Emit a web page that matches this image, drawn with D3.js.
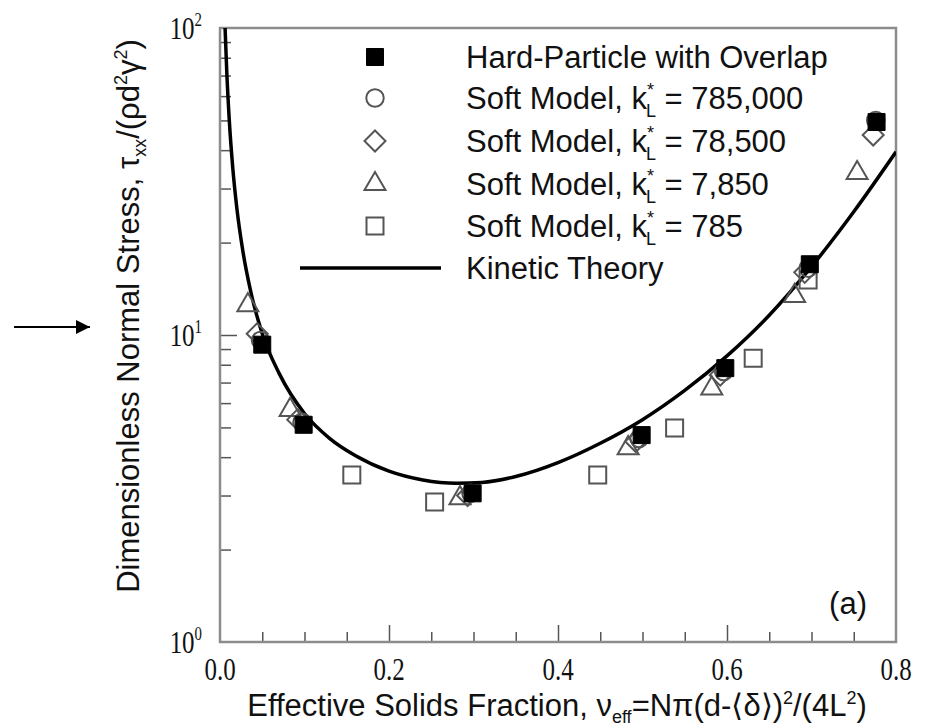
<!DOCTYPE html>
<html>
<head>
<meta charset="utf-8">
<script src="https://cdn.jsdelivr.net/npm/d3@7"></script>
<style>
  html, body { margin: 0; padding: 0; background: #fff; }
  svg { display: block; }
</style>
</head>
<body>
<svg id="chart" width="927" height="726"></svg>
<script>
// ---------------- data ----------------
const xTickLabels = ["0.0", "0.2", "0.4", "0.6", "0.8"];
const xMajorTicks = [0, 0.2, 0.4, 0.6, 0.8];
const yMajorTicks = [1, 10, 100];
const yTickExponents = ["0", "1", "2"];

// Hard-Particle with Overlap (filled squares)
const hardNu  = [0.050, 0.099, 0.299, 0.499, 0.598, 0.698, 0.777];
const hardVal = [9.3,   5.1,   3.05,  4.72,  7.8,   17.0,  49.4];
// Soft Model k = 785,000 (circles)
const soft1Nu  = [0.048, 0.097, 0.297, 0.496, 0.596, 0.696, 0.776];
const soft1Val = [9.6,   5.2,   3.05,  4.6,   7.6,   16.5,  50.0];
// Soft Model k = 78,500 (diamonds)
const soft2Nu  = [0.044, 0.092, 0.293, 0.492, 0.592, 0.692, 0.773];
const soft2Val = [10.1,  5.3,   3.0,   4.5,   7.4,   16.0,  44.8];
// Soft Model k = 7,850 (triangles)
const soft3Nu  = [0.033, 0.083, 0.284, 0.483, 0.582, 0.680, 0.754];
const soft3Val = [12.5,  5.7,   2.94,  4.28,  6.7,   13.4,  33.7];
// Soft Model k = 785 (open squares)
const soft4Nu  = [0.156, 0.254, 0.447, 0.538, 0.631, 0.696];
const soft4Val = [3.5,   2.86,  3.5,   4.98,  8.4,   15.1];

// Kinetic theory curve
const ktNu  = [0.006, 0.008, 0.011, 0.015, 0.020, 0.027, 0.036, 0.050, 0.070, 0.100, 0.130, 0.160, 0.200, 0.240, 0.280, 0.310, 0.350, 0.400, 0.450, 0.500, 0.550, 0.600, 0.650, 0.700, 0.750, 0.800];
const ktVal = [100,   72,    50,    35.3,  25.8,  18.8,  14.0,  10.1,  7.5,   5.55,  4.6,   4.05,  3.6,   3.37,  3.29,  3.31,  3.46,  3.84,  4.44,  5.3,   6.6,   8.55,  11.6,  16.7,  25.2,  39.5];

const legendLabels = ["Hard-Particle with Overlap", "785,000", "78,500", "7,850", "785", "Kinetic Theory"];

// ---------------- layout ----------------
const svg = d3.select("#chart");
const defs = svg.append("defs");
const L = 220, R = 896, T = 28, B = 642;
const x = d3.scaleLinear().domain([0, 0.8]).range([L, R]);
const y = d3.scaleLog().domain([1, 100]).range([B, T]);

const frameColor = "#8c8c8c";
const tickColor = "#555";
const serif = "'Liberation Serif', 'Times New Roman', serif";
const sans = "'Liberation Sans', Arial, Helvetica, sans-serif";
const fs = 31;      // sans font size
const fsSub = 18;   // sub/superscript size

// minor / major ticks via axes
const xMinor = d3.range(1, 16).map(k => k * 0.05).filter((v, i) => (i + 1) % 4 !== 0);
const xMajorInner = [0.2, 0.4, 0.6];

svg.append("g").attr("transform", `translate(0,${B})`)
  .call(d3.axisBottom(x).tickValues(xMinor).tickSize(-10).tickFormat(""))
  .call(g => g.select(".domain").remove())
  .call(g => g.selectAll("line").attr("stroke", tickColor).attr("stroke-width", 1.5));
svg.append("g").attr("transform", `translate(0,${B})`)
  .call(d3.axisBottom(x).tickValues(xMajorInner).tickSize(-17).tickFormat(""))
  .call(g => g.select(".domain").remove())
  .call(g => g.selectAll("line").attr("stroke", tickColor).attr("stroke-width", 1.5));

// x tick labels (tall, narrow serif digits)
const xl = svg.append("g");
xMajorTicks.forEach((v, i) => {
  xl.append("g").attr("transform", `translate(${x(v)},${B + 38}) scale(0.78,1)`)
    .append("text").attr("text-anchor", "middle")
    .attr("font-family", serif).attr("font-size", 32).attr("fill", "#111")
    .text(xTickLabels[i]);
});

// y ticks
const yMinor = [];
[1, 10].forEach(dec => { for (let k = 2; k <= 9; k++) yMinor.push(dec * k); });
svg.append("g").attr("transform", `translate(${L},0)`)
  .call(d3.axisLeft(y).tickValues(yMinor).tickSize(-11).tickFormat(""))
  .call(g => g.select(".domain").remove())
  .call(g => g.selectAll("line").attr("stroke", tickColor).attr("stroke-width", 1.5));
svg.append("g").attr("transform", `translate(${L},0)`)
  .call(d3.axisLeft(y).tickValues([10]).tickSize(-17).tickFormat(""))
  .call(g => g.select(".domain").remove())
  .call(g => g.selectAll("line").attr("stroke", tickColor).attr("stroke-width", 1.5));

// y tick labels with superscripts
const yl = svg.append("g");
yMajorTicks.forEach((v, i) => {
  const t = yl.append("g").attr("transform", `translate(202,${y(v) + 11}) scale(0.78,1)`)
    .append("text")
    .attr("text-anchor", "end")
    .attr("font-family", serif).attr("font-size", 32).attr("fill", "#111");
  t.append("tspan").text("10");
  t.append("tspan").attr("dy", -13).attr("font-size", 19).text(yTickExponents[i]);
});

// frame
svg.append("rect").attr("x", L).attr("y", T).attr("width", R - L).attr("height", B - T)
  .attr("fill", "none").attr("stroke", frameColor).attr("stroke-width", 2.5);

// ---------------- kinetic theory curve ----------------
const ktData = ktNu.map((n, i) => [n, ktVal[i]]);
defs.append("clipPath").attr("id", "clip")
  .append("rect").attr("x", L).attr("y", T).attr("width", R - L).attr("height", B - T);
svg.append("path")
  .datum(ktData)
  .attr("clip-path", "url(#clip)")
  .attr("fill", "none").attr("stroke", "#000").attr("stroke-width", 3.5)
  .attr("d", d3.line().x(d => x(d[0])).y(d => y(d[1])).curve(d3.curveMonotoneX));

// ---------------- markers ----------------
const openStroke = "#555";
const diamondPath = (h) => `M0,${-h}L${h},0L0,${h}L${-h},0Z`;
const trianglePath = (s) => {
  const hgt = s * Math.sqrt(3) / 2;
  return `M0,${-hgt * 2 / 3}L${s / 2},${hgt / 3}L${-s / 2},${hgt / 3}Z`;
};
const sym = {
  sqFilled: () => d3.symbol().type(d3.symbolSquare).size(289)(),
  circle: () => d3.symbol().type(d3.symbolCircle).size(240)(),
  diamond: () => diamondPath(10.5),
  triangle: () => trianglePath(21),
  sqOpen: () => d3.symbol().type(d3.symbolSquare).size(289)()
};

function drawSeries(nu, val, gen, filled) {
  svg.append("g").selectAll("path")
    .data(nu.map((n, i) => [n, val[i]]))
    .join("path")
    .attr("transform", d => `translate(${x(d[0])},${y(d[1])})`)
    .attr("d", gen())
    .attr("fill", filled ? "#000" : "none")
    .attr("stroke", filled ? "#000" : openStroke)
    .attr("stroke-width", filled ? 1 : 2);
}
drawSeries(soft4Nu, soft4Val, sym.sqOpen, false);
drawSeries(soft3Nu, soft3Val, sym.triangle, false);
drawSeries(soft2Nu, soft2Val, sym.diamond, false);
drawSeries(soft1Nu, soft1Val, sym.circle, false);
drawSeries(hardNu, hardVal, sym.sqFilled, true);

// ---------------- legend ----------------
const lg = svg.append("g");
const legX = 375, textX = 466;
const rowsY = [57, 98, 141, 184, 226, 268];
const legSyms = [["sqFilled", true], ["circle", false], ["diamond", false], ["triangle", false], ["sqOpen", false]];
legSyms.forEach((s, i) => {
  lg.append("path").attr("transform", `translate(${legX},${rowsY[i]})`)
    .attr("d", sym[s[0]]())
    .attr("fill", s[1] ? "#000" : "none")
    .attr("stroke", s[1] ? "#000" : openStroke)
    .attr("stroke-width", s[1] ? 1 : 2);
});
lg.append("line").attr("x1", 300).attr("x2", 441).attr("y1", rowsY[5]).attr("y2", rowsY[5])
  .attr("stroke", "#000").attr("stroke-width", 3.5);

rowsY.forEach((yy, i) => {
  const t = lg.append("text").attr("x", textX).attr("y", yy + 11)
    .attr("font-family", sans).attr("font-size", fs).attr("fill", "#111");
  if (i === 0 || i === 5) { t.text(legendLabels[i]); return; }
  t.append("tspan").text("Soft Model, k");
  // stacked super/sub
  t.append("tspan").attr("dy", -13).attr("font-size", fsSub).text("*");
  t.append("tspan").attr("dx", -8).attr("dy", 21).attr("font-size", fsSub).text("L");
  t.append("tspan").attr("dy", -8).text(" = " + legendLabels[i]);
});

// ---------------- titles ----------------
const xt = svg.append("text").attr("x", 557).attr("y", 716).attr("text-anchor", "middle")
  .attr("font-family", sans).attr("font-size", fs).attr("fill", "#111");
xt.append("tspan").text("Effective Solids Fraction, ν");
xt.append("tspan").attr("dy", 7).attr("font-size", fsSub).text("eff");
xt.append("tspan").attr("dy", -7).text("=Nπ(d-⟨δ⟩)");
xt.append("tspan").attr("dy", -12).attr("font-size", fsSub).text("2");
xt.append("tspan").attr("dy", 12).text("/(4L");
xt.append("tspan").attr("dy", -12).attr("font-size", fsSub).text("2");
xt.append("tspan").attr("dy", 12).text(")");

const ytg = svg.append("g").attr("transform", "translate(139,316) rotate(-90)");
const yt = ytg.append("text").attr("text-anchor", "middle")
  .attr("font-family", sans).attr("font-size", fs).attr("fill", "#111");
yt.append("tspan").text("Dimensionless Normal Stress, τ");
yt.append("tspan").attr("dy", 7).attr("font-size", fsSub).text("xx");
yt.append("tspan").attr("dy", -7).text("/(ρd");
yt.append("tspan").attr("dy", -12).attr("font-size", fsSub).text("2");
yt.append("tspan").attr("dy", 12).text("γ");
yt.append("tspan").attr("dy", -12).attr("font-size", fsSub).text("2");
yt.append("tspan").attr("dy", 12).text(")");

// panel label
svg.append("text").attr("x", 867).attr("y", 614).attr("text-anchor", "end")
  .attr("font-family", sans).attr("font-size", fs).attr("fill", "#111").text("(a)");

// arrow
defs.append("marker").attr("id", "ah").attr("viewBox", "0 0 10 10").attr("refX", 10).attr("refY", 5)
  .attr("markerWidth", 20).attr("markerHeight", 14).attr("markerUnits", "userSpaceOnUse")
  .attr("orient", "auto")
  .append("path").attr("d", "M0,0 L10,5 L0,10 Z").attr("fill", "#000");
svg.append("line").attr("x1", 14).attr("x2", 90).attr("y1", 327).attr("y2", 327)
  .attr("stroke", "#000").attr("stroke-width", 2).attr("marker-end", "url(#ah)");
</script>
</body>
</html>
